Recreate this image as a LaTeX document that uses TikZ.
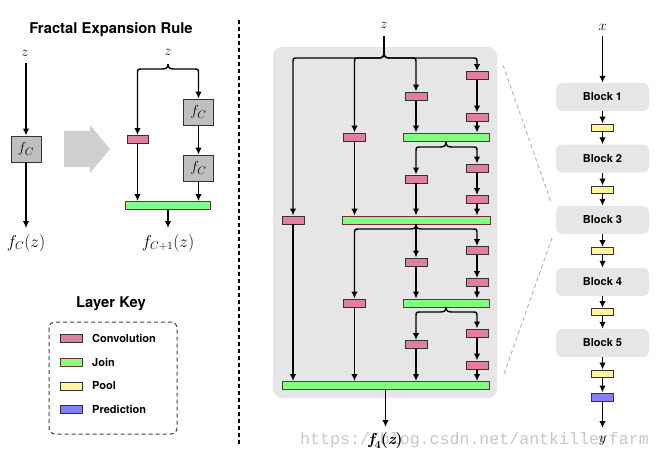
\documentclass[tikz,border=0pt]{standalone}
\usepackage{fontspec}
\setsansfont{TeX Gyre Heros}
\newfontfamily\wmfont{Liberation Mono}
\usetikzlibrary{arrows.meta}
\definecolor{convc}{HTML}{E07F9E}
\definecolor{joinc}{HTML}{80FF80}
\definecolor{joinb}{HTML}{7A2838}
\definecolor{poolc}{HTML}{FFF799}
\definecolor{predc}{HTML}{8080FF}
\definecolor{bgc}{HTML}{E6E6E6}
\definecolor{fcc}{HTML}{BFBFBF}
\definecolor{edgec}{HTML}{333333}
\tikzset{
  arr/.style={-{Latex[length=7pt,width=6.5pt]}, line width=1.4pt, black},
  ln/.style={line width=1.4pt, black},
  lay/.style={rectangle, draw=edgec, line width=0.9pt, minimum width=22pt, minimum height=8pt, inner sep=0pt},
  conv/.style={lay, fill=convc},
  joinbar/.style={lay, draw=joinb, fill=joinc},
  pool/.style={lay, fill=poolc},
  pred/.style={lay, fill=predc},
  fcbox/.style={rectangle, draw=edgec, fill=fcc, line width=0.9pt, minimum width=30pt, minimum height=26pt, inner sep=0pt, font=\fontsize{15}{18}\selectfont},
  blockbox/.style={rectangle, fill=bgc, rounded corners=6pt, minimum width=93pt, minimum height=28pt, inner sep=0pt, font=\fontsize{11}{13}\selectfont\sffamily\bfseries},
  mlabel/.style={inner sep=0pt, font=\fontsize{15}{18}\selectfont},
  flabel/.style={inner sep=0pt, font=\fontsize{16}{19}\selectfont},
  titletext/.style={inner sep=0pt, font=\fontsize{14.8}{17}\selectfont\sffamily\bfseries},
  keylab/.style={inner sep=0pt, anchor=west, font=\fontsize{11}{13}\selectfont\sffamily\bfseries},
}
% brace branch: #1 tip x, #2 horizontal y, #3 column x, #4 sign (-1 left, 1 right), #5 target node
\newcommand\bbranch[5]{%
  \draw[arr] ({#1},{#2-5}) .. controls ({#1},{#2-1}) and ({#1+(#4)*2},{#2}) .. ({#1+(#4)*6},{#2})
    -- ({#3-(#4)*5},{#2}) .. controls ({#3},{#2}) .. ({#3},{#2+5}) -- (#5.north);}
\begin{document}
\begin{tikzpicture}[x=1pt,y=-1pt]
\useasboundingbox (0,0) rectangle (663,460);

% ---------------- Left panel: Fractal Expansion Rule ----------------
\node[titletext] (title1) at (111,30) {Fractal Expansion Rule};

\node[mlabel] (zL) at (25,53) {$z$};
\node[fcbox] (fC0) at (26,149) {$f_C$};
\coordinate (eL) at (26,228);
\node[flabel] (fCz) at (26,243) {$f_C(z)$};
\coordinate (zLs) at (26,63);
\draw[arr] (zLs) -- (fC0.north);
\draw[arr] (fC0.south) -- (eL);

\fill[gray!38] (64,131) -- (90,131) -- (90,125) -- (110,149) -- (90,173) -- (90,167) -- (64,167) -- cycle;

\node[mlabel] (zR) at (168,52) {$z$};
\coordinate (tipL) at (168,64);
\node[conv, minimum width=21pt] (L1) at (137.5,139.5) {};
\node[fcbox] (F1) at (198.5,112) {$f_C$};
\node[fcbox] (F2) at (198.5,168) {$f_C$};
\node[joinbar, minimum width=85pt] (JL) at (167.5,205.5) {};
\coordinate (eR) at (168,228);
\node[flabel] (fC1z) at (168,243) {$f_{C+1}(z)$};
\bbranch{168}{69}{137.5}{-1}{L1}
\bbranch{168}{69}{198.5}{1}{F1}
\draw[arr] (F1.south) -- (F2.north);
\draw[arr] (L1.south) -- (L1.south |- JL.north);
\draw[arr] (F2.south) -- (F2.south |- JL.north);
\draw[arr] (JL.south -| eR) -- (eR);

% ---------------- Layer key ----------------
\node[titletext] (title2) at (111,304) {Layer Key};
\draw[line width=1pt, dash pattern=on 4pt off 3pt, rounded corners=6pt, draw=black!75] (49,322) rectangle (177,434);
\node[conv] (k1) at (71,338) {};
\node[keylab] (k1t) at (92,338) {Convolution};
\node[joinbar] (k2) at (71,362) {};
\node[keylab] (k2t) at (92,362) {Join};
\node[pool] (k3) at (71,386) {};
\node[keylab] (k3t) at (92,386) {Pool};
\node[pred] (k4) at (71,409) {};
\node[keylab] (k4t) at (92,409) {Prediction};

% separator
\coordinate (s1) at (239,20);
\coordinate (s2) at (239,446);
\draw[line width=1.1pt, dash pattern=on 4pt off 3pt] (s1) -- (s2);

% ---------------- Middle panel: fractal block ----------------
\fill[bgc, rounded corners=9pt] (273,47) rectangle (497,398);
\node[mlabel] (zM) at (384,25) {$z$};
\coordinate (tipM) at (384,53);
\coordinate (zMs) at (384,36);
\draw[ln] (zMs) -- (tipM);

\node[conv] (A4a) at (477,75.5) {};
\node[conv] (A4b) at (477,117) {};
\node[conv] (A3) at (416,96) {};
\node[joinbar, minimum width=86pt] (J1) at (446,137) {};
\node[conv] (A2) at (354.5,137) {};
\node[conv] (B3) at (416,179) {};
\node[conv] (B4a) at (477,168) {};
\node[conv] (B4b) at (477,199.5) {};
\node[joinbar, minimum width=148pt] (J2) at (416,220) {};
\node[conv] (A1) at (293,220) {};
\node[conv] (C3) at (416,262) {};
\node[conv] (C4a) at (477,250.5) {};
\node[conv] (C4b) at (477,282.5) {};
\node[joinbar, minimum width=86pt] (J3) at (446,303) {};
\node[conv] (C2) at (354.5,303) {};
\node[conv] (D3) at (416,344.5) {};
\node[conv] (D4a) at (477,333) {};
\node[conv] (D4b) at (477,365) {};
\node[joinbar, minimum width=207pt] (J4) at (385.5,385.5) {};

% top brace
\bbranch{384}{58}{293}{-1}{A1}
\bbranch{384}{58}{354.5}{-1}{A2}
\bbranch{384}{58}{416}{1}{A3}
\bbranch{384}{58}{477}{1}{A4a}
\draw[arr] (A4a.south) -- (A4b.north);
\draw[arr] (A4b.south) -- (A4b.south |- J1.north);
\draw[arr] (A3.south) -- (A3.south |- J1.north);
\draw[arr] (A2.south) -- (A2.south |- J2.north);
% brace under J1
\bbranch{446}{147}{416}{-1}{B3}
\bbranch{446}{147}{477}{1}{B4a}
\draw[ln] (J1.south) -- (446,142);
\draw[arr] (B4a.south) -- (B4b.north);
\draw[arr] (B4b.south) -- (B4b.south |- J2.north);
\draw[arr] (B3.south) -- (B3.south |- J2.north);
% brace under J2
\draw[arr] (J2.south) -- (C3.north);
\bbranch{416}{229}{354.5}{-1}{C2}
\bbranch{416}{229}{477}{1}{C4a}
\draw[arr] (C4a.south) -- (C4b.north);
\draw[arr] (C4b.south) -- (C4b.south |- J3.north);
\draw[arr] (C3.south) -- (C3.south |- J3.north);
% brace under J3
\bbranch{446}{312}{416}{-1}{D3}
\bbranch{446}{312}{477}{1}{D4a}
\draw[ln] (J3.south) -- (446,307);
\draw[arr] (D4a.south) -- (D4b.north);
% into final join
\draw[arr] (A1.south) -- (A1.south |- J4.north);
\draw[arr] (C2.south) -- (C2.south |- J4.north);
\draw[arr] (D3.south) -- (D3.south |- J4.north);
\draw[arr] (D4b.south) -- (D4b.south |- J4.north);
\coordinate (eM) at (385.5,427);
\draw[arr] (J4.south) -- (eM);

% zoom lines
\coordinate (g1) at (503,65);
\coordinate (g2) at (551,202);
\coordinate (g3) at (552,238);
\coordinate (g4) at (503,377);
\draw[gray!60, line width=0.9pt, dash pattern=on 4pt off 3pt] (g1) -- (g2);
\draw[gray!60, line width=0.9pt, dash pattern=on 4pt off 3pt] (g3) -- (g4);

% ---------------- Right panel: network ----------------
\node[mlabel] (xR) at (602.5,27) {$x$};
\node[blockbox] (Bk1) at (602.5,97) {Block 1};
\node[blockbox] (Bk2) at (602.5,158.5) {Block 2};
\node[blockbox] (Bk3) at (602.5,220) {Block 3};
\node[blockbox] (Bk4) at (602.5,282) {Block 4};
\node[blockbox] (Bk5) at (602.5,343) {Block 5};
\node[pool, minimum height=7pt] (P1) at (602.5,127.5) {};
\node[pool, minimum height=7pt] (P2) at (602.5,189.5) {};
\node[pool, minimum height=7pt] (P3) at (602.5,251) {};
\node[pool, minimum height=7pt] (P4) at (602.5,312) {};
\node[pool, minimum height=7pt] (P5) at (602.5,373.5) {};
\node[pred] (Pr) at (602.5,397) {};
\coordinate (xRs) at (602.5,36);
\draw[arr] (xRs) -- (Bk1.north);
\draw[arr] (Bk1.south) -- (P1.north);
\draw[arr] (P1.south) -- (Bk2.north);
\draw[arr] (Bk2.south) -- (P2.north);
\draw[arr] (P2.south) -- (Bk3.north);
\draw[arr] (Bk3.south) -- (P3.north);
\draw[arr] (P3.south) -- (Bk4.north);
\draw[arr] (Bk4.south) -- (P4.north);
\draw[arr] (P4.south) -- (Bk5.north);
\draw[arr] (Bk5.south) -- (P5.north);
\draw[arr] (P5.south) -- (Pr.north);
\coordinate (eY) at (602.5,428);
\draw[arr] (Pr.south) -- (eY);

% watermark
\node[inner sep=0pt, anchor=west, text=black!22, font=\wmfont\fontsize{16.6}{18}\selectfont] (wm) at (300,440) {https://blog.csdn.net/antkillerfarm};

\node[flabel] (f4z) at (385.5,441) {{\bfseries\itshape f}\raisebox{-3.5pt}{\fontsize{11}{12}\selectfont\bfseries 4}{\bfseries(}{\bfseries\itshape z}{\bfseries)}};
\node[mlabel] (yR) at (602.5,441) {$y$};
\end{tikzpicture}
\end{document}
